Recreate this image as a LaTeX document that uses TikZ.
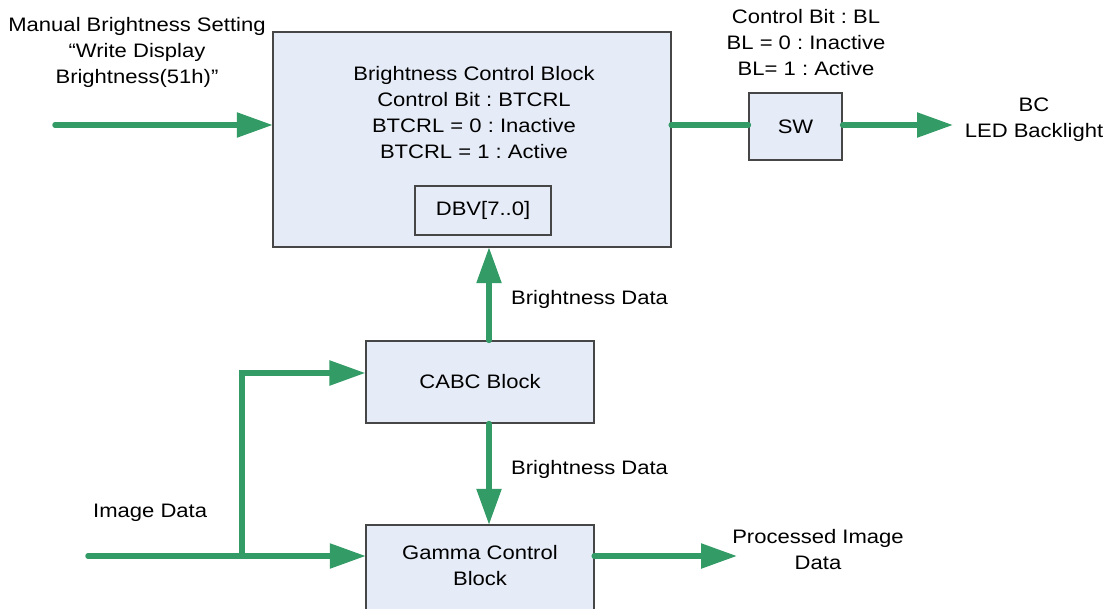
\documentclass[tikz,border=0pt]{standalone}
\usepackage{fontspec}
\setmainfont{Liberation Sans}[FakeStretch=1.13]
\usetikzlibrary{arrows.meta}
\definecolor{flow}{RGB}{51,155,102}
\definecolor{boxfill}{RGB}{230,236,247}
\definecolor{boxline}{RGB}{70,70,70}
\tikzset{
  blk/.style={draw=boxline, line width=1.2pt, fill=boxfill},
  flowline/.style={draw=flow, line width=5.5pt, line cap=round},
  flowarrow/.style={flowline, -{Triangle[length=36pt,width=24pt]}},
  lbl/.style={font=\fontsize{19.5}{26}\selectfont\frenchspacing, align=center, inner sep=0pt},
}
\begin{document}
\begin{tikzpicture}[x=1pt,y=-1pt]
\useasboundingbox (0,0) rectangle (1110,608);
% boxes
\path[blk] (273,32) rectangle (671,247);
\node (bcb) at (472,139.5) [minimum width=398pt, minimum height=215pt, inner sep=0pt] {};
\node (dbv) [blk, minimum width=136pt, minimum height=49pt, inner sep=0pt, lbl] at (483,210.5) {DBV[7..0]};
\node (sw) [blk, minimum width=93pt, minimum height=67pt, inner sep=0pt, lbl] at (795.5,126.5) {SW};
\node (cabc) [blk, minimum width=228pt, minimum height=82pt, inner sep=0pt, lbl] at (480,382) {CABC Block};
\path[blk] (366,525) rectangle (594,620);
\node (gamma) [minimum width=228pt, minimum height=95pt, inner sep=0pt] at (480,572.5) {};
\node[lbl] at (480,566) {Gamma Control\\Block};
% texts
\node (man) [lbl] at (137,52) {Manual Brightness Setting\\“Write Display\\Brightness(51h)”};
\node[lbl] at (474,113) {Brightness Control Block\\Control Bit : BTCRL\\BTCRL = 0 : Inactive\\BTCRL = 1 : Active};
\node[lbl] at (806,43) {Control Bit : BL\\BL = 0 : Inactive\\BL= 1 : Active};
\node[lbl] at (1034,120) {BC\\LED Backlight};
\node[lbl, anchor=west] at (511,299) {Brightness Data};
\node[lbl, anchor=west] at (511,469) {Brightness Data};
\node[lbl, anchor=west] at (93,513) {Image Data};
\node[lbl] at (818,550) {Processed Image\\Data};
% coordinates
\coordinate (manstart) at (55,125);
\coordinate (bcend) at (953,125);
\coordinate (imgstart) at (88,556);
\coordinate (branch) at (242,556);
\coordinate (corner) at (242,373);
\coordinate (procend) at (737,556);
% connectors
\draw[flowarrow] (manstart) -- (manstart -| bcb.west);
\draw[flowline] (bcb.east |- manstart) -- (sw.west |- manstart);
\draw[flowarrow] (sw.east |- manstart) -- (bcend);
\draw[flowarrow] (cabc.north -| 489,0) -- (bcb.south -| 489,0);
\draw[flowarrow] (cabc.south -| 489,0) -- (gamma.north -| 489,0);
\draw[flowarrow] (imgstart) -- (imgstart -| gamma.west);
\draw[flowarrow] (branch) -- (corner) -- (corner -| cabc.west);
\draw[flowarrow] (gamma.east |- procend) -- (procend);
\end{tikzpicture}
\end{document}
